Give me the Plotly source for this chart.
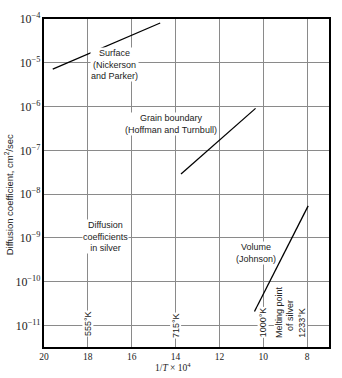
import numpy as np
import plotly.graph_objects as go

# Diffusion coefficients of silver vs reciprocal temperature (1/T x 10^4)
surface_x = [19.6, 14.7]
surface_D = [7.2e-6, 8.1e-5]

grain_x = [13.75, 10.35]
grain_D = [2.9e-8, 9.1e-7]

volume_x = [10.4, 7.95]
volume_D = [2.1e-11, 5.4e-9]

x_ticks = [20, 18, 16, 14, 12, 10, 8]
temps_K = [555, 715, 1000]
melting_K = 1233

TXT = "#222222"
SANS = "Liberation Sans, Arial, sans-serif"
SERIF = "Liberation Serif, Times New Roman, serif"

fig = go.Figure()
for xs, ds in [(surface_x, surface_D), (grain_x, grain_D), (volume_x, volume_D)]:
    fig.add_trace(go.Scatter(x=xs, y=ds, mode="lines",
                             line=dict(color="black", width=1.3),
                             showlegend=False, hoverinfo="skip"))


def label(text, x, ly, angle=0, size=9):
    fig.add_annotation(x=x, y=ly, text=text, showarrow=False,
                       textangle=angle, xanchor="center", yanchor="middle",
                       align="center", bgcolor="white", borderpad=0,
                       font=dict(family=SANS, size=size, color=TXT))


# Curve labels
label("Surface<br>(Nickerson<br>and Parker)", 16.8, -5.048)
label("Grain boundary<br>(Hoffman and Turnbull)", 14.23, -6.396)
label("Diffusion<br>coefficients<br>in silver", 17.2, -8.956)
label("Volume<br>(Johnson)", 10.33, -9.339)

# Temperature markers on the 1/T axis
temp_ly = [-10.955, -10.993, -10.922]
for T, ly in zip(temps_K, temp_ly):
    label(f"{T}°K", 1e4 / T, ly, angle=-90)
label("Melting point", 9.27, -10.688, angle=-90)
label("of silver", 8.77, -10.777, angle=-90)
label(f"{melting_K}°K", 8.27, -10.933, angle=-90)

# Axis titles
fig.add_annotation(xref="paper", yref="paper", x=(9 - 44) / 286, y=(347 - 191.5) / 336,
                   text="Diffusion coefficient, cm<sup>2</sup>/sec", textangle=-90,
                   showarrow=False, xanchor="center", yanchor="middle",
                   font=dict(family=SANS, size=9.5, color=TXT))
fig.add_annotation(xref="paper", yref="paper", x=(173 - 44) / 286, y=(347 - 367.5) / 336,
                   text="1/<i>T</i> × 10<sup>4</sup>", showarrow=False,
                   xanchor="center", yanchor="middle",
                   font=dict(family=SERIF, size=9.5, color=TXT))

fig.update_xaxes(range=[20, 7], tickvals=x_ticks, ticktext=[str(v) for v in x_ticks],
                 showgrid=True, gridcolor="#8a8a8a", gridwidth=1,
                 showline=True, linecolor="black", linewidth=1.5, mirror=True,
                 ticks="", zeroline=False,
                 tickfont=dict(family=SERIF, size=9.5, color=TXT))
fig.update_yaxes(type="log", range=[-11.49, -4], dtick=1, exponentformat="power",
                 showgrid=True, gridcolor="#8a8a8a", gridwidth=1,
                 showline=True, linecolor="black", linewidth=1.5, mirror=True,
                 ticks="", zeroline=False,
                 tickfont=dict(family=SERIF, size=9.5, color=TXT))

fig.update_layout(width=342, height=378, margin=dict(l=44, r=12, t=11, b=31),
                  plot_bgcolor="white", paper_bgcolor="white")

fig.write_html("out.html")
